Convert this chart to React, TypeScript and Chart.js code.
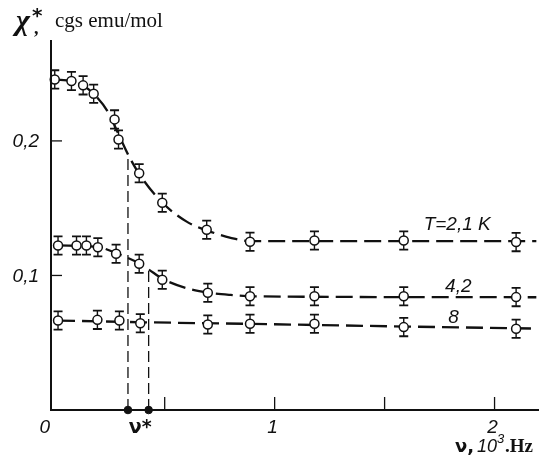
import React, { useEffect, useRef } from "react";
import { Chart, registerables } from "chart.js";

Chart.register(...registerables);

// ---- data ----
const freq21 = [0, 0.076, 0.129, 0.177, 0.272, 0.29, 0.384, 0.489, 0.691, 0.888, 1.181, 1.587, 2.098];
const chi21 = [0.2457, 0.2445, 0.2413, 0.2351, 0.216, 0.201, 0.176, 0.154, 0.134, 0.125, 0.126, 0.126, 0.1248];

const freq42 = [0.015, 0.099, 0.144, 0.196, 0.279, 0.384, 0.489, 0.696, 0.888, 1.181, 1.587, 2.098];
const chi42 = [0.1223, 0.1223, 0.1223, 0.121, 0.1161, 0.1087, 0.0968, 0.0871, 0.0846, 0.0846, 0.0846, 0.0839];

const freq8 = [0.015, 0.194, 0.294, 0.389, 0.696, 0.888, 1.181, 1.587, 2.098];
const chi8 = [0.0665, 0.067, 0.0665, 0.0645, 0.0636, 0.0641, 0.0641, 0.0616, 0.0604];

const errHalf = 0.0068;

// fitted curves as drawn in the reference
const curve21X = [0, 0.076, 0.13, 0.18, 0.24, 0.29, 0.333, 0.39, 0.49, 0.6, 0.7, 0.8, 0.89, 2.19];
const curve21Y = [0.2457, 0.2445, 0.241, 0.2345, 0.222, 0.205, 0.19, 0.174, 0.154, 0.14, 0.133, 0.128, 0.1255, 0.1255];

const curve42X = [0.015, 0.2, 0.28, 0.384, 0.427, 0.49, 0.6, 0.7, 0.8, 0.9, 2.19];
const curve42Y = [0.1223, 0.121, 0.1165, 0.109, 0.1045, 0.0975, 0.0905, 0.0872, 0.0855, 0.0845, 0.0838];

const curve8X = [0.015, 0.4, 0.9, 1.6, 2.19];
const curve8Y = [0.0665, 0.0652, 0.064, 0.062, 0.0605];

// characteristic frequencies ν*
const nuStar = [0.333, 0.427];
const nuStarTop = [0.19, 0.1045];

const xTicks = [0.5, 1, 1.5, 2];
const xTickLabels = [
  { v: 0, t: "0" },
  { v: 1, t: "1" },
  { v: 2, t: "2" },
];
const yTicks = [0.1, 0.2];
const yTickLabels = ["0,1", "0,2"];

const seriesLabels = [
  { t: "T=2,1 K", x: 1.83, y: 0.138 },
  { t: "4,2", x: 1.835, y: 0.0918 },
  { t: "8", x: 1.814, y: 0.0688 },
];

const pts = (xs: number[], ys: number[]) => xs.map((x, i) => ({ x, y: ys[i] }));

const overlay = {
  id: "overlay",
  beforeDatasetsDraw(chart: any) {
    const { ctx, scales } = chart;
    const xs = scales.x, ys = scales.y;
    ctx.save();
    ctx.strokeStyle = "#111";
    const sets: [number[], number[]][] = [
      [freq21, chi21],
      [freq42, chi42],
      [freq8, chi8],
    ];
    for (const [fx, cy] of sets) {
      fx.forEach((f, i) => {
        const px = xs.getPixelForValue(f);
        const pTop = ys.getPixelForValue(cy[i] + errHalf);
        const pBot = ys.getPixelForValue(cy[i] - errHalf);
        ctx.lineWidth = 1.4;
        ctx.beginPath();
        ctx.moveTo(px, pTop);
        ctx.lineTo(px, pBot);
        ctx.stroke();
        ctx.lineWidth = 1.8;
        ctx.beginPath();
        ctx.moveTo(px - 4.5, pTop);
        ctx.lineTo(px + 4.5, pTop);
        ctx.moveTo(px - 4.5, pBot);
        ctx.lineTo(px + 4.5, pBot);
        ctx.stroke();
      });
    }
    ctx.restore();
  },
  afterDraw(chart: any) {
    const { ctx, scales, chartArea } = chart;
    const xs = scales.x, ys = scales.y;
    ctx.save();
    ctx.strokeStyle = "#111";
    ctx.fillStyle = "#111";
    // axes
    ctx.lineWidth = 2;
    ctx.beginPath();
    ctx.moveTo(chartArea.left, chartArea.top);
    ctx.lineTo(chartArea.left, chartArea.bottom);
    ctx.lineTo(chartArea.right + 2, chartArea.bottom);
    ctx.stroke();
    // inward ticks
    ctx.lineWidth = 1.3;
    xTicks.forEach((v) => {
      const px = xs.getPixelForValue(v);
      ctx.beginPath();
      ctx.moveTo(px, chartArea.bottom);
      ctx.lineTo(px, chartArea.bottom - 13);
      ctx.stroke();
    });
    yTicks.forEach((v) => {
      const py = ys.getPixelForValue(v);
      ctx.beginPath();
      ctx.moveTo(chartArea.left, py);
      ctx.lineTo(chartArea.left + 11, py);
      ctx.stroke();
    });
    // tick labels
    ctx.font = "italic 19px 'Liberation Sans', sans-serif";
    ctx.textBaseline = "middle";
    ctx.textAlign = "center";
    xTickLabels.forEach(({ v, t }) => {
      const px = xs.getPixelForValue(v);
      ctx.fillText(t, v === 0 ? px - 10 : px - 2, 428);
    });
    ctx.textAlign = "right";
    yTicks.forEach((v, i) => {
      ctx.fillText(yTickLabels[i], 39, ys.getPixelForValue(v) + 1);
    });
    // ν* label
    ctx.textAlign = "center";
    ctx.font = "bold 19px 'DejaVu Sans', sans-serif";
    const mid = (xs.getPixelForValue(nuStar[0]) + xs.getPixelForValue(nuStar[1])) / 2;
    ctx.fillText("ν*", mid + 2, 428);
    // series labels
    ctx.font = "italic 19px 'Liberation Sans', sans-serif";
    ctx.textAlign = "center";
    seriesLabels.forEach(({ t, x, y }) => {
      ctx.fillText(t, xs.getPixelForValue(x), ys.getPixelForValue(y));
    });
    // x axis title
    ctx.textAlign = "left";
    ctx.textBaseline = "alphabetic";
    ctx.font = "bold 18px 'DejaVu Sans', sans-serif";
    ctx.fillText("ν,", 455, 452);
    ctx.font = "italic 18px 'Liberation Sans', sans-serif";
    ctx.fillText("10", 477, 452);
    ctx.font = "italic 13px 'Liberation Sans', sans-serif";
    ctx.fillText("3", 497, 443);
    ctx.font = "bold 19px 'Liberation Serif', serif";
    ctx.fillText(".Hz", 505, 452);
    // y axis title
    ctx.font = "italic bold 30px 'Liberation Serif', serif";
    ctx.fillText("χ", 16, 30);
    ctx.font = "bold 20px 'DejaVu Sans', sans-serif";
    ctx.fillText("*", 32, 22);
    ctx.font = "bold 18px 'Liberation Serif', serif";
    ctx.fillText(",", 34, 34);
    ctx.font = "21px 'Liberation Serif', serif";
    ctx.fillText("cgs emu/mol", 55, 27);
    ctx.restore();
  },
};

export default function App() {
  const ref = useRef<HTMLCanvasElement>(null);
  useEffect(() => {
    if (!ref.current) return;
    const pointStyle = {
      showLine: false,
      pointRadius: 4.5,
      pointBackgroundColor: "#fff",
      pointBorderColor: "#111",
      pointBorderWidth: 1.5,
      borderColor: "#111",
      clip: false as any,
    };
    const curveStyle = {
      showLine: true,
      pointRadius: 0,
      borderColor: "#111",
      borderWidth: 2.3,
      borderDash: [17, 7],
      cubicInterpolationMode: "monotone" as const,
      fill: false,
      clip: false as any,
    };
    const vLine = (i: number) => ({
      showLine: true,
      pointRadius: 0,
      borderColor: "#111",
      borderWidth: 1.3,
      borderDash: [11, 5],
      data: [
        { x: nuStar[i], y: 0 },
        { x: nuStar[i], y: nuStarTop[i] },
      ],
      clip: false as any,
    });
    const chart = new Chart(ref.current, {
      type: "scatter",
      data: {
        datasets: [
          { ...pointStyle, data: pts(freq21, chi21) },
          { ...pointStyle, data: pts(freq42, chi42) },
          { ...pointStyle, data: pts(freq8, chi8) },
          {
            showLine: false,
            pointRadius: 3.8,
            pointBackgroundColor: "#111",
            pointBorderColor: "#111",
            data: nuStar.map((x) => ({ x, y: 0 })),
            clip: false as any,
          },
          { ...curveStyle, data: pts(curve21X, curve21Y) },
          { ...curveStyle, data: pts(curve42X, curve42Y) },
          { ...curveStyle, tension: 0, cubicInterpolationMode: "default" as const, data: pts(curve8X, curve8Y) },
          vLine(0),
          vLine(1),
        ] as any,
      },
      options: {
        animation: false,
        responsive: false,
        events: [],
        layout: { padding: { left: 51, top: 40, right: 2, bottom: 54 } },
        plugins: { legend: { display: false }, tooltip: { enabled: false } },
        scales: {
          x: { type: "linear", display: false, min: -0.017, max: 2.193 },
          y: { type: "linear", display: false, min: 0, max: 0.275 },
        },
      },
      plugins: [overlay],
    });
    return () => chart.destroy();
  }, []);
  return (
    <div style={{ position: "fixed", left: 0, top: 0, width: 543, height: 464, background: "#fff" }}>
      <canvas ref={ref} width={543} height={464} style={{ width: 543, height: 464, display: "block" }} />
    </div>
  );
}
